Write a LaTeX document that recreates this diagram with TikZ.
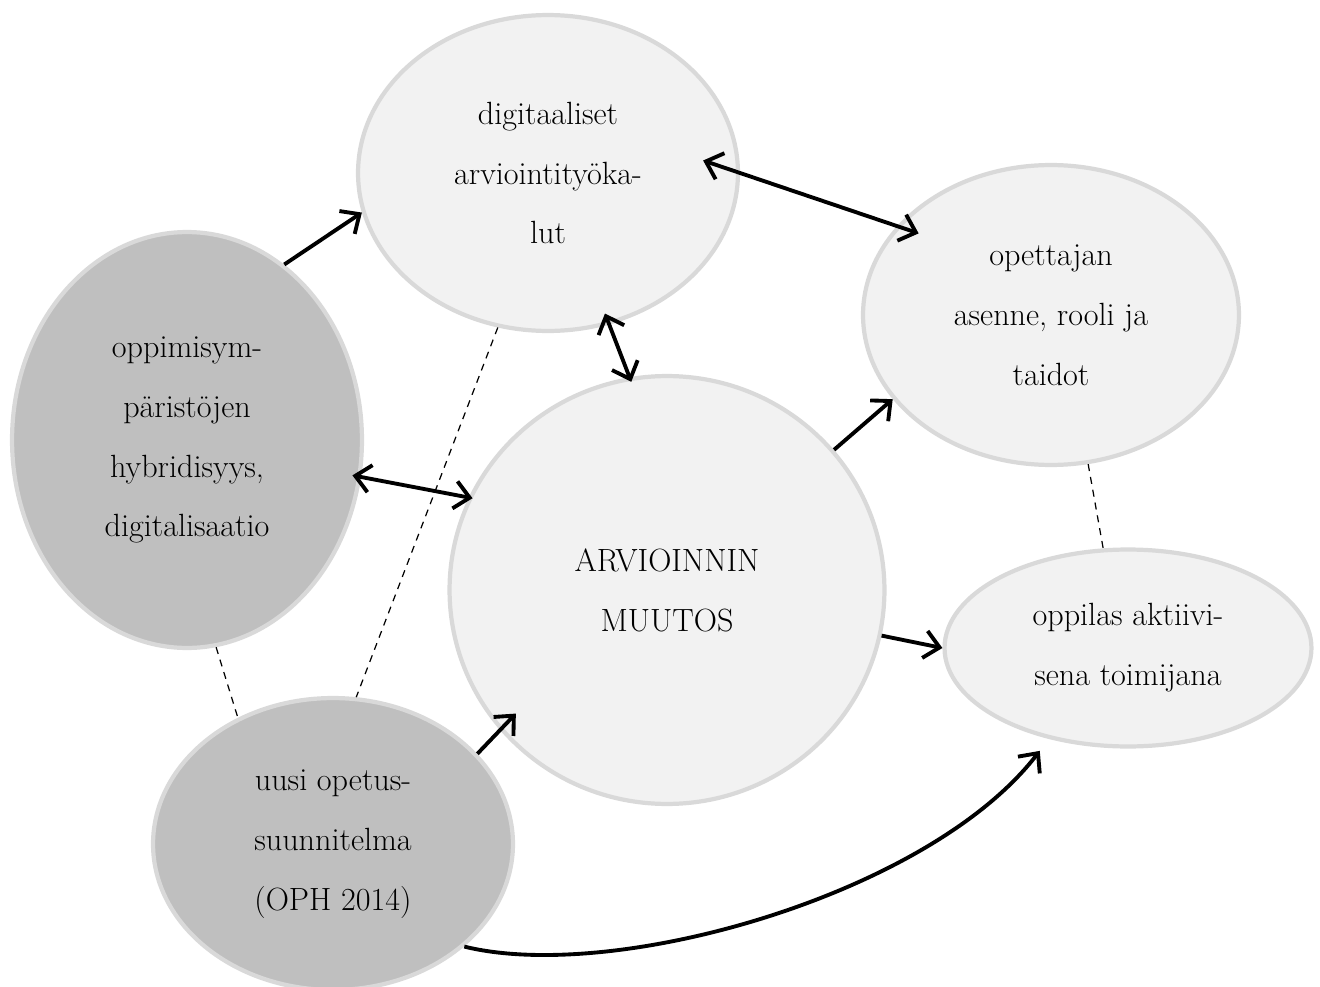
\documentclass[tikz,border=0pt]{standalone}
\usepackage{tikz}
\usetikzlibrary{shapes.geometric,arrows.meta}
\definecolor{bubblefill}{HTML}{F2F2F2}
\definecolor{bubbledark}{HTML}{BFBFBF}
\definecolor{bubbleline}{HTML}{D9D9D9}
\tikzset{
	bubble/.style={ellipse, draw=bubbleline, line width=2.4pt, fill=bubblefill, inner sep=0pt, align=center, font=\fontsize{18.3}{34.1}\selectfont},
	darkbubble/.style={bubble, fill=bubbledark},
	arr/.style={line width=2.2pt, ->},
	twoway/.style={line width=2.2pt, <->},
	link/.style={line width=0.7pt, dash pattern=on 4pt off 3.4pt}
}
\begin{document}
\begin{tikzpicture}[x=0.02cm, y=-0.02cm, >={Straight Barb[length=0.3cm,width=0.55cm]}]
			%%%%% START %%%%%
			
			\useasboundingbox (0, 0) rectangle (1320, 987);
			
			\node[bubble, minimum width=7.6cm, minimum height=6.32cm] (digi) at (548, 173) {digitaaliset\\arviointityöka-\\lut};
			\node[darkbubble, minimum width=7cm, minimum height=8.32cm] (hybrid) at (187, 440) {oppimisym-\\päristöjen\\hybridisyys,\\digitalisaatio};
			\node[bubble, minimum width=8.7cm, minimum height=8.56cm] (muutos) at (667, 590) {ARVIOINNIN\\MUUTOS};
			\node[bubble, minimum width=7.52cm, minimum height=6cm] (opettaja) at (1051, 315) {opettajan\\asenne, rooli ja\\taidot};
			\node[bubble, minimum width=7.34cm, minimum height=3.94cm] (oppilas) at (1128, 648) {oppilas aktiivi-\\sena toimijana};
			\node[darkbubble, minimum width=7.2cm, minimum height=5.84cm] (ops) at (333, 844) {uusi opetus-\\suunnitelma\\(OPH 2014)};
			
			\draw[link] (hybrid.-82) -- (ops.127);
			\draw[link] (digi.-108) -- (ops.81);
			\draw[link] (opettaja.-76) -- (oppilas.104);
			
			\draw[arr] (hybrid.61) -- (digi.192);
			\draw[twoway, shorten <=-0.78cm, shorten >=-0.46cm] (digi.0) -- (opettaja.150);
			\draw[twoway, shorten <=-0.24cm, shorten >=-0.1cm] (digi.-68) -- (muutos.100);
			\draw[twoway, shorten <=-0.18cm, shorten >=-0.08cm] (hybrid.-12.5) -- (muutos.155);
			\draw[arr] (muutos.40) -- (opettaja.-152);
			\draw[arr] (muutos.-12) -- (oppilas.180);
			\draw[arr, shorten >=-0.46cm] (ops.32) -- (muutos.-140);
			\draw[arr, shorten >=0.3cm] (ops.-38) .. controls +(150, 37) and +(-120, 156) .. (oppilas.-131);
			
			%%%%% END %%%%%
\end{tikzpicture}
\end{document}
